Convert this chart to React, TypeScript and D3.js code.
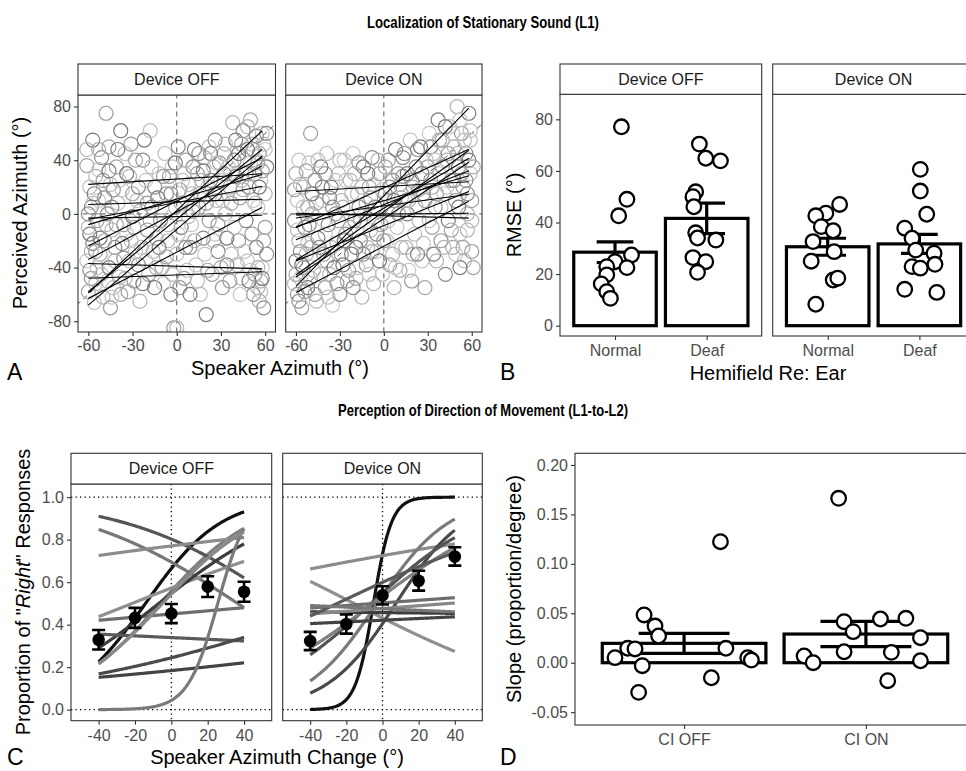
import React, { useEffect, useRef } from 'react';
import * as d3 from 'd3';

const FONT = '"Liberation Sans", Arial, Helvetica, sans-serif';

// ---- A: single responses [speaker azimuth, perceived azimuth]
const locOffPoints: [number, number][] = [
	[-61, 36], [-59, 20], [-58, 5], [-60, -10], [-57, -22], [-61, -35], [-58, -48], [-60, -58], [-56, -66], [-59, -42],
	[-55, 28], [-57, 55], [-53, 10], [-54, -5], [-52, -30], [-55, -52], [-51, 42], [-50, -62], [-52, -18], [-53, 33],
	[-48, 75], [-46, 50], [-45, 22], [-47, 0], [-44, -12], [-46, -40], [-43, -55], [-45, -70], [-41, 35], [-40, 8],
	[-42, -25], [-39, -47], [-38, 62], [-37, 18], [-36, -8], [-38, -60], [-35, 45], [-36, -33], [-32, 28], [-30, -2],
	[-31, -20], [-29, -50], [-28, 40], [-27, 10], [-26, -38], [-25, -65], [-22, 55], [-21, 25], [-20, -12], [-19, -45],
	[-18, 62], [-17, 5], [-16, -28], [-15, -55], [-12, 30], [-11, -5], [-10, -40], [-8, 45], [-7, 15], [-6, -20],
	[-4, -60], [-3, 35], [-2, -85], [-1, 5], [0, -30], [1, 50], [0, -85], [3, -10], [4, 25], [5, -48],
	[6, 40], [8, -2], [9, -25], [10, 15], [12, 48], [13, -38], [14, 30], [15, 5], [16, -60], [18, -18],
	[19, 42], [20, -75], [21, 20], [22, -5], [24, -45], [25, 35], [26, 55], [27, 10], [28, -28], [30, 25],
	[31, -55], [32, 45], [33, 0], [34, -38], [38, 68], [40, 55], [41, 30], [42, -20], [43, 12], [44, -48],
	[45, 62], [46, 40], [47, -5], [48, -35], [49, 20], [50, 70], [51, 52], [52, -60], [53, 30], [54, -25],
	[55, 5], [56, 45], [57, -50], [58, 60], [59, -70], [60, 15], [61, 35], [58, -40], [60, -10], [56, -65],
	[57, 25], [-60, 0], [-58, -28], [-56, 15], [-54, -40], [-50, 25], [-49, -20], [-47, -50], [-44, 5], [-42, -35],
	[-40, 48], [-34, -15], [-33, -58], [-30, 15], [-24, -25], [-23, 40], [-14, -18], [-13, 12], [-9, -52], [-5, 28],
	[2, 18], [7, -42], [11, 35], [17, 25], [23, 45], [26, -15], [29, 38], [36, 20], [37, -30], [39, 40],
	[44, 25], [48, 48], [52, 10], [53, -45], [55, 38], [59, 52], [61, -30],
	[-61, 48], [-59, -15], [-57, 8], [-55, -28], [-53, 48], [-51, -45], [-49, 12], [-48, -8], [-46, 32], [-44, -62],
	[-43, 18], [-41, -8], [-39, 25], [-37, -22], [-35, -48], [-34, 30], [-32, -35], [-31, 52], [-29, -10], [-28, -28],
	[-26, 20], [-25, 2], [-23, -52], [-21, -35], [-20, 8], [-18, -5], [-17, 35], [-15, 20], [-14, -40], [-12, -25],
	[-10, 5], [-9, 28], [-7, -32], [-6, -8], [-4, 15], [-3, -45], [-1, 38], [1, -15], [2, -55], [3, 8],
	[5, 30], [6, -25], [8, 22], [9, -60], [10, -8], [11, 2], [12, -20], [14, -50], [15, 45], [16, 15],
	[18, 32], [19, -30], [20, 8], [21, -42], [22, 50], [23, 25], [25, -20], [26, 15], [27, 38], [28, -8],
	[30, -40], [31, 10], [32, 30], [33, 52], [34, -18], [35, 35], [36, -50], [37, 8], [39, -10], [40, 28],
	[41, -38], [42, 45], [43, -60], [44, 52], [45, 18], [46, -28], [47, 30], [48, 65], [49, -50], [50, 38],
	[51, -15], [52, 48], [53, 8], [54, 58], [55, -40], [56, 20], [57, -58], [58, 32], [59, -20], [60, 48],
	[61, 60], [55, -55], [58, -48], [50, -42],
];
const locOnPoints: [number, number][] = [
	[-60, 30], [-59, 10], [-61, -5], [-58, -20], [-60, -35], [-57, -48], [-59, -60], [-56, -70], [-55, 20], [-54, -10],
	[-53, -30], [-52, -55], [-51, 38], [-50, 60], [-49, 0], [-48, -42], [-47, 25], [-46, -65], [-45, -18], [-58, 40],
	[-55, -40], [-52, 5], [-61, -52], [-57, -28], [-50, -25], [-43, 35], [-42, 10], [-41, -30], [-40, -55], [-39, 45],
	[-38, -8], [-37, -45], [-36, 20], [-35, -68], [-33, 0], [-32, -22], [-31, 30], [-30, -60], [-29, 10], [-28, -38],
	[-27, 40], [-26, -15], [-25, -50], [-40, -15], [-35, 5], [-23, 25], [-22, -30], [-21, 45], [-20, -5], [-19, -48],
	[-18, 15], [-16, -20], [-15, -62], [-14, 35], [-13, 0], [-12, -38], [-10, 20], [-9, -12], [-8, 42], [-7, -52],
	[-6, 5], [-5, -28], [-3, 30], [-2, -8], [-1, -45], [-17, 5], [-11, -25], [1, 15], [2, -20], [3, 40],
	[4, -38], [5, 5], [6, 25], [7, -55], [8, 48], [9, -10], [10, 30], [11, -42], [12, 12], [14, 45],
	[15, -25], [16, 0], [18, 55], [19, -50], [20, 20], [21, -15], [22, 35], [24, -5], [25, 50], [26, -35],
	[27, 15], [28, -55], [29, 40], [13, 28], [17, 10], [23, -30], [31, 60], [32, 25], [33, -10], [34, 45],
	[35, 5], [36, -35], [37, 70], [38, 30], [39, -20], [40, 55], [41, 15], [42, -45], [43, 40], [44, -5],
	[45, 65], [46, 25], [47, -25], [48, 50], [49, 10], [50, 80], [51, 35], [52, -15], [53, 60], [54, 20],
	[55, -35], [56, 45], [57, 0], [58, 75], [59, 30], [60, -28], [61, -40], [59, 55], [57, 15], [60, -5],
	[52, -40], [49, -30],
	[-61, 18], [-60, -45], [-59, -12], [-58, -65], [-57, 22], [-56, -38], [-55, 5], [-54, -58], [-53, 32], [-52, -22],
	[-51, -8], [-50, -48], [-49, 15], [-48, -30], [-47, -60], [-46, 8], [-45, 40], [-44, -25], [-43, -45], [-42, 20],
	[-41, -5], [-40, 30], [-39, -35], [-38, -62], [-37, 12], [-36, -25], [-34, -40], [-33, 25], [-32, -52], [-31, -5],
	[-30, 40], [-29, -30], [-28, 5], [-27, -20], [-26, 25], [-24, -42], [-23, -10], [-22, 15], [-21, -55], [-20, 30],
	[-19, -25], [-18, -40], [-17, 38], [-16, -5], [-15, 20], [-14, -30], [-12, 8], [-11, 30], [-10, -45], [-9, 12],
	[-8, -28], [-7, 22], [-5, -15], [-4, 40], [-3, -35], [-1, 18], [0, -20], [1, 35], [3, -5], [4, 20],
	[6, -30], [7, 10], [8, -40], [10, 0], [11, 22], [12, -25], [13, 42], [15, 10], [16, 30], [17, -42],
	[19, 25], [20, -30], [22, 5], [23, 48], [24, 18], [26, 30], [27, -22], [28, 10], [30, 35], [31, -5],
	[32, 50], [33, 20], [34, -30], [35, 40], [36, 15], [38, 55], [39, 5], [40, 35], [41, -25], [42, 65],
	[43, 20], [44, 45], [46, -12], [47, 60], [48, 25], [50, 45], [51, 5], [52, 70], [53, 30], [54, -25],
	[55, 55], [56, 25], [57, -12], [58, 40], [59, 62], [60, 10], [61, 35],
];
// A: per-listener linear fits, perceived azimuth at speaker -60 and +60
const locOffFits: [number, number][] = [
	[22, 30], [7, 11], [-3, -1], [-8, 30], [-24, 43], [-34, 37], [-37, -41],
	[-48, -43], [-59, 64], [-68, 45], [-58, 50], [-63, 6], [-4, 21],
];
const locOnFits: [number, number][] = [
	[16.7, 24.1], [0.5, -3.2], [-0.7, 0.5], [-9.4, 29], [-10.4, 49.1], [-3, 15], [-19.3, 33],
	[-34.3, 42.7], [-45.5, 49], [-54, 81], [-58.6, 10.5], [-35, 17.6], [-47, 40],
];
const respGrays = ['#a6a6a6', '#bdbdbd', '#8c8c8c', '#b3b3b3', '#7a7a7a', '#c4c4c4', '#999999'];

// ---- B: RMSE by hemifield
const hemifields = ['Normal', 'Deaf'];
const rmseOffNormal = [77.1, 49, 42.6, 27.4, 24.8, 22.9, 22.5, 19.7, 16.2, 13.2, 10.6];
const rmseOffNormalJitter = [0.07, 0.13, 0.04, 0.18, 0, -0.09, 0.13, -0.09, -0.15, -0.09, -0.05];
const rmseOffDeaf = [70.4, 64.9, 63.9, 51.9, 50, 46.1, 36, 34, 33.2, 26.4, 24.8, 20.7];
const rmseOffDeafJitter = [-0.08, -0.01, 0.15, -0.12, -0.15, -0.14, -0.12, -0.1, 0.1, -0.15, -0.01, -0.1];
const rmseOnNormal = [47, 43.6, 42.6, 38.4, 36.8, 32.6, 28.7, 25, 17.7, 18.4, 8.3];
const rmseOnNormalJitter = [0.13, -0.02, -0.13, -0.07, 0.06, -0.16, 0.07, -0.18, 0.06, 0.11, -0.13];
const rmseOnDeaf = [60.6, 52.2, 43.2, 37.8, 33.9, 29.3, 28.1, 22.9, 22.3, 23.8, 14.1, 12.9];
const rmseOnDeafJitter = [0.01, 0.01, 0.08, -0.16, -0.08, -0.04, 0.16, -0.08, 0.01, 0.17, -0.16, 0.19];
const rmseOffMean = [28.5, 41.6];
const rmseOffSe = [4.0, 5.9];
const rmseOnMean = [30.6, 31.7];
const rmseOnSe = [3.3, 3.7];

// ---- C: proportion "right" responses
const changeLevels = [-40, -20, 0, 20, 40];
const propOffMean = [0.329, 0.432, 0.452, 0.579, 0.555];
const propOffSe = [0.046, 0.047, 0.045, 0.049, 0.047];
const propOnMean = [0.323, 0.403, 0.538, 0.607, 0.721];
const propOnSe = [0.043, 0.045, 0.043, 0.047, 0.043];
// per-listener logistic fits [intercept, slope per degree]
const fitOff: [number, number][] = [
	[0.682, 0.048], [0.233, 0.0382], [1.402, -0.0228], [0.82, -0.0225], [1.212, 0.006], [0.293, 0.0136], [-0.2, 0.003],
	[0.186, 0.027], [-0.667, -0.0018], [-1.13, 0.0117], [-1.49, 0.0057], [-3.09, 0.121], [0.177, 0.0365],
];
const fitOn: [number, number][] = [
	[1.0, 0.2], [0.969, 0.00742], [-0.276, -0.01745], [0.152, 0.0502], [-0.387, 0.05205], [0.197, 0.0313], [0.1375, 0.0258],
	[0.01, 0.00245], [-0.174, -0.00035], [-0.096, 0.0026], [-0.319, 0.00165], [0.4025, 0.0161], [-0.1, -0.0015],
];
const fitOffShades = ['#111', '#808080', '#555', '#777', '#8c8c8c', '#909090', '#6e6e6e', '#3d3d3d', '#5a5a5a', '#4a4a4a', '#444', '#7a7a7a', '#888'];
const fitOnShades = ['#111', '#8c8c8c', '#909090', '#7a7a7a', '#4a4a4a', '#555', '#808080', '#6e6e6e', '#3d3d3d', '#888', '#444', '#5a5a5a', '#777'];

// ---- D: slopes
const ciGroups = ['CI OFF', 'CI ON'];
const slopeOff = [0.1224, 0.0483, 0.0371, 0.027, 0.0051, 0.0146, 0.0139, -0.003, -0.03, -0.0152, 0.0146, 0.005, 0.0027];
const slopeOffJitter = [0.2, -0.22, -0.16, -0.14, -0.38, -0.31, -0.27, -0.23, -0.25, 0.15, 0.23, 0.35, 0.37];
const slopeOn = [0.1663, 0.0415, 0.0314, 0.0442, 0.0449, 0.0253, 0.0111, 0.0105, 0.002, 0.0068, 0.0, -0.0182];
const slopeOnJitter = [-0.15, -0.12, -0.07, 0.08, 0.22, 0.3, -0.12, 0.14, 0.3, -0.34, -0.29, 0.12];
const slopeMean = [0.0196, 0.029];
const slopeSe = [0.0101, 0.0128];

const drawChart = (el: SVGSVGElement) => {
	const svg = d3.select(el);
	svg.selectAll('*').remove();
	svg.append('rect').attr('width', 966).attr('height', 771).attr('fill', '#fff');

	let clipCount = 0;
	const clipped = (x0: number, x1: number, y0: number, y1: number) => {
		const id = `panel-clip-${clipCount++}`;
		svg.append('clipPath').attr('id', id).append('rect')
			.attr('x', x0).attr('y', y0).attr('width', x1 - x0).attr('height', y1 - y0);
		return svg.append('g').attr('clip-path', `url(#${id})`);
	};
	const frame = (x0: number, x1: number, y0: number, y1: number, fill = 'none') =>
		svg.append('rect').attr('x', x0).attr('y', y0).attr('width', x1 - x0).attr('height', y1 - y0)
			.attr('fill', fill).attr('stroke', '#333').attr('stroke-width', 1.1);
	const text = (x: number, y: number, s: string, size: number, anchor = 'middle', rotate = false) => {
		const t = svg.append('text').attr('x', x).attr('y', y).attr('text-anchor', anchor)
			.attr('font-family', FONT).attr('font-size', size).attr('fill', '#000').text(s);
		if (rotate) t.attr('transform', `rotate(-90 ${x} ${y})`);
		return t;
	};
	const strip = (x0: number, x1: number, y0: number, y1: number, label: string) => {
		frame(x0, x1, y0, y1, '#fff');
		text((x0 + x1) / 2, (y0 + y1) / 2 + 5.7, label, 16).attr('fill', '#1a1a1a');
	};
	const styleAxis = (ax: any) => {
		ax.select('.domain').remove();
		ax.attr('font-family', FONT).attr('font-size', 16);
		ax.selectAll('line').attr('stroke', '#333').attr('stroke-width', 1.1);
		ax.selectAll('text').attr('fill', '#4d4d4d');
	};
	const yAxis = (scale: any, x: number, ticks: number[], fmt: (d: any) => string) => {
		const ax = svg.append('g').attr('transform', `translate(${x},0)`)
			.call(d3.axisLeft(scale).tickValues(ticks).tickFormat(fmt).tickSize(4).tickPadding(3));
		styleAxis(ax);
	};
	const xAxis = (scale: any, y: number, ticks: number[], fmt: (d: any) => string, pad = 5) => {
		const ax = svg.append('g').attr('transform', `translate(0,${y})`)
			.call(d3.axisBottom(scale).tickValues(ticks).tickFormat(fmt).tickSize(4).tickPadding(pad));
		styleAxis(ax);
	};
	// condensed bold titles
	const title = (y: number, s: string, width: number) =>
		svg.append('text').attr('x', 483).attr('y', y).attr('text-anchor', 'middle').attr('font-family', FONT)
			.attr('font-weight', 'bold').attr('font-size', 17).attr('textLength', width)
			.attr('lengthAdjust', 'spacingAndGlyphs').text(s);

	title(28, 'Localization of Stationary Sound (L1)', 232);
	title(416, 'Perception of Direction of Movement (L1-to-L2)', 290);

	// ---------------- A ----------------
	const aTop = 95, aBottom = 332;
	const yA = d3.scaleLinear().domain([-88, 88.6]).range([aBottom, aTop]);
	const aFacets = [
		{ label: 'Device OFF', x0: 78, x1: 275.5, pts: locOffPoints, fits: locOffFits },
		{ label: 'Device ON', x0: 285.7, x1: 482, pts: locOnPoints, fits: locOnFits },
	];
	aFacets.forEach((f) => {
		const x = d3.scaleLinear().domain([-67, 67]).range([f.x0, f.x1]);
		const g = clipped(f.x0, f.x1, aTop, aBottom);
		const ref = [
			[[0, -95], [0, 95]],
			[[-70, 0], [70, 0]],
			[[-95, -95], [95, 95]],
		];
		g.selectAll('line.ref').data(ref).join('line').attr('class', 'ref')
			.attr('x1', (d) => x(d[0][0])).attr('y1', (d) => yA(d[0][1]))
			.attr('x2', (d) => x(d[1][0])).attr('y2', (d) => yA(d[1][1]))
			.attr('stroke', '#555').attr('stroke-width', 1).attr('stroke-dasharray', '5,4');
		g.selectAll('circle.resp').data(f.pts).join('circle').attr('class', 'resp')
			.attr('cx', (d) => x(d[0])).attr('cy', (d) => yA(d[1])).attr('r', 7)
			.attr('fill', 'none').attr('stroke', (d, i) => respGrays[i % respGrays.length]).attr('stroke-width', 1.2);
		g.selectAll('line.fit').data(f.fits).join('line').attr('class', 'fit')
			.attr('x1', x(-60)).attr('y1', (d) => yA(d[0]))
			.attr('x2', x(58)).attr('y2', (d) => yA(d3.scaleLinear().domain([-60, 60]).range(d)(58)))
			.attr('stroke', '#000').attr('stroke-width', 1.1);
		frame(f.x0, f.x1, aTop, aBottom);
		strip(f.x0, f.x1, 64, aTop, f.label);
		xAxis(x, aBottom, [-60, -30, 0, 30, 60], (d) => String(d), 4);
	});
	yAxis(yA, 78, [-80, -40, 0, 40, 80], (d) => String(d));
	text(27, 213, 'Perceived Azimuth (°)', 20, 'middle', true);
	text(280, 375, 'Speaker Azimuth (°)', 20);
	text(7, 380, 'A', 23, 'start');

	// ---------------- B ----------------
	const bTop = 94.3, bBottom = 336;
	const yB = d3.scaleLinear().domain([-4, 89.7]).range([bBottom, bTop]);
	const bFacets = [
		{ label: 'Device OFF', x0: 560, mean: rmseOffMean, se: rmseOffSe, pts: [rmseOffNormal, rmseOffDeaf], jit: [rmseOffNormalJitter, rmseOffDeafJitter] },
		{ label: 'Device ON', x0: 772.7, mean: rmseOnMean, se: rmseOnSe, pts: [rmseOnNormal, rmseOnDeaf], jit: [rmseOnNormalJitter, rmseOnDeafJitter] },
	];
	bFacets.forEach((f) => {
		const x1 = f.x0 + 201.7;
		const x = d3.scaleLinear().domain([0.4, 2.6]).range([f.x0, x1]);
		const g = clipped(f.x0, x1, bTop, bBottom);
		g.selectAll('rect.bar').data(f.mean).join('rect').attr('class', 'bar')
			.attr('x', (d, i) => x(i + 1 - 0.45)).attr('width', x(1.45) - x(0.55))
			.attr('y', (d) => yB(d)).attr('height', (d) => yB(0) - yB(d))
			.attr('fill', '#fff').attr('stroke', '#000').attr('stroke-width', 3.2);
		f.mean.forEach((m, i) => {
			const cx = x(i + 1), hw = x(1.2) - x(1);
			const path = d3.path();
			path.moveTo(cx - hw, yB(m + f.se[i])); path.lineTo(cx + hw, yB(m + f.se[i]));
			path.moveTo(cx, yB(m + f.se[i])); path.lineTo(cx, yB(m - f.se[i]));
			path.moveTo(cx - hw, yB(m - f.se[i])); path.lineTo(cx + hw, yB(m - f.se[i]));
			g.append('path').attr('d', path.toString()).attr('stroke', '#000').attr('stroke-width', 3.2).attr('fill', 'none');
			g.selectAll(`circle.pt${i}`).data(f.pts[i]).join('circle').attr('class', `pt${i}`)
				.attr('cx', (d, j) => x(i + 1 + f.jit[i][j])).attr('cy', (d) => yB(d)).attr('r', 7.3)
				.attr('fill', '#fff').attr('stroke', '#000').attr('stroke-width', 2.3);
		});
		frame(f.x0, x1, bTop, bBottom);
		strip(f.x0, x1, 64, bTop, f.label);
		xAxis(x, bBottom, [1, 2], (d) => hemifields[d - 1], 5);
	});
	yAxis(yB, 560, [0, 20, 40, 60, 80], (d) => String(d));
	text(521, 215, 'RMSE (°)', 20, 'middle', true);
	text(768, 380, 'Hemifield Re: Ear', 20);
	text(500, 380, 'B', 23, 'start');

	// ---------------- C ----------------
	const cTop = 484, cBottom = 720.7;
	const yC = d3.scaleLinear().domain([-0.052, 1.062]).range([cBottom, cTop]);
	const xs = d3.range(-40, 40.01, 0.5);
	const logistic = (b: [number, number], v: number) => 1 / (1 + Math.exp(-(b[0] + b[1] * v)));
	const cFacets = [
		{ label: 'Device OFF', x0: 71, x1: 271.7, fits: fitOff, shades: fitOffShades, mean: propOffMean, se: propOffSe },
		{ label: 'Device ON', x0: 282.7, x1: 482.3, fits: fitOn, shades: fitOnShades, mean: propOnMean, se: propOnSe },
	];
	cFacets.forEach((f) => {
		const x = d3.scaleLinear().domain([-55.2, 55.2]).range([f.x0, f.x1]);
		const g = clipped(f.x0, f.x1, cTop, cBottom);
		const dotted = (a: number, b: number, c: number, d: number) =>
			g.append('line').attr('x1', a).attr('y1', b).attr('x2', c).attr('y2', d)
				.attr('stroke', '#000').attr('stroke-width', 1.3).attr('stroke-dasharray', '1.3,3.2');
		dotted(f.x0, yC(0), f.x1, yC(0));
		dotted(f.x0, yC(1), f.x1, yC(1));
		dotted(x(0), cTop, x(0), cBottom);
		f.fits.forEach((b, i) => {
			const line = d3.line<number>().x((v) => x(v)).y((v) => yC(logistic(b, v)));
			g.append('path').attr('d', line(xs)).attr('fill', 'none')
				.attr('stroke', f.shades[i]).attr('stroke-width', 3.2);
		});
		f.mean.forEach((m, i) => {
			const cx = x(changeLevels[i]), hw = 6.5;
			const path = d3.path();
			path.moveTo(cx - hw, yC(m + f.se[i])); path.lineTo(cx + hw, yC(m + f.se[i]));
			path.moveTo(cx, yC(m + f.se[i])); path.lineTo(cx, yC(m - f.se[i]));
			path.moveTo(cx - hw, yC(m - f.se[i])); path.lineTo(cx + hw, yC(m - f.se[i]));
			g.append('path').attr('d', path.toString()).attr('stroke', '#000').attr('stroke-width', 2.6).attr('fill', 'none');
			g.append('circle').attr('cx', cx).attr('cy', yC(m)).attr('r', 6.3).attr('fill', '#000');
		});
		frame(f.x0, f.x1, cTop, cBottom);
		strip(f.x0, f.x1, 453.3, cTop, f.label);
		xAxis(x, cBottom, changeLevels, (d) => String(d), 5);
	});
	yAxis(yC, 71, [0, 0.2, 0.4, 0.6, 0.8, 1.0], (d) => d.toFixed(1));
	const cy = svg.append('text').attr('x', 30).attr('y', 592).attr('text-anchor', 'middle')
		.attr('font-family', FONT).attr('font-size', 20).attr('transform', 'rotate(-90 30 592)');
	cy.append('tspan').text('Proportion of "');
	cy.append('tspan').attr('font-style', 'italic').text('Right');
	cy.append('tspan').text('" Responses');
	text(277, 764, 'Speaker Azimuth Change (°)', 20);
	text(7, 765, 'C', 23, 'start');

	// ---------------- D ----------------
	const dTop = 453.3, dBottom = 725, dLeft = 575, dRight = 975;
	const yD = d3.scaleLinear().domain([-0.063, 0.2118]).range([dBottom, dTop]);
	const xD = d3.scaleLinear().domain([0.4, 2.6]).range([dLeft, dRight]);
	const gD = clipped(dLeft, dRight, dTop, dBottom);
	gD.selectAll('rect.bar').data(slopeMean).join('rect').attr('class', 'bar')
		.attr('x', (d, i) => xD(i + 1 - 0.45)).attr('width', xD(1.45) - xD(0.55))
		.attr('y', (d) => yD(d)).attr('height', (d) => yD(0) - yD(d))
		.attr('fill', '#fff').attr('stroke', '#000').attr('stroke-width', 3.2);
	const slopePts = [slopeOff, slopeOn];
	const slopeJit = [slopeOffJitter, slopeOnJitter];
	slopeMean.forEach((m, i) => {
		const cx = xD(i + 1), hw = xD(1.25) - xD(1);
		const path = d3.path();
		path.moveTo(cx - hw, yD(m + slopeSe[i])); path.lineTo(cx + hw, yD(m + slopeSe[i]));
		path.moveTo(cx, yD(m + slopeSe[i])); path.lineTo(cx, yD(m - slopeSe[i]));
		path.moveTo(cx - hw, yD(m - slopeSe[i])); path.lineTo(cx + hw, yD(m - slopeSe[i]));
		gD.append('path').attr('d', path.toString()).attr('stroke', '#000').attr('stroke-width', 3.2).attr('fill', 'none');
		gD.selectAll(`circle.pt${i}`).data(slopePts[i]).join('circle').attr('class', `pt${i}`)
			.attr('cx', (d, j) => xD(i + 1 + slopeJit[i][j])).attr('cy', (d) => yD(d)).attr('r', 7.3)
			.attr('fill', '#fff').attr('stroke', '#000').attr('stroke-width', 2.3);
	});
	frame(dLeft, dRight, dTop, dBottom);
	xAxis(xD, dBottom, [1, 2], (d) => ciGroups[d - 1], 5);
	yAxis(yD, dLeft, [-0.05, 0, 0.05, 0.1, 0.15, 0.2], (d) => d.toFixed(2));
	text(521, 589, 'Slope (proportion/degree)', 20, 'middle', true);
	text(500, 765, 'D', 23, 'start');
};

export default function App() {
	const svgRef = useRef<SVGSVGElement>(null);

	useEffect(() => {
		if (svgRef.current) {
			drawChart(svgRef.current);
		}
	}, [svgRef]);

	return (
		<svg ref={svgRef} width={966} height={771} style={{ position: 'absolute', left: 0, top: 0, background: '#fff' }} />
	);
}
